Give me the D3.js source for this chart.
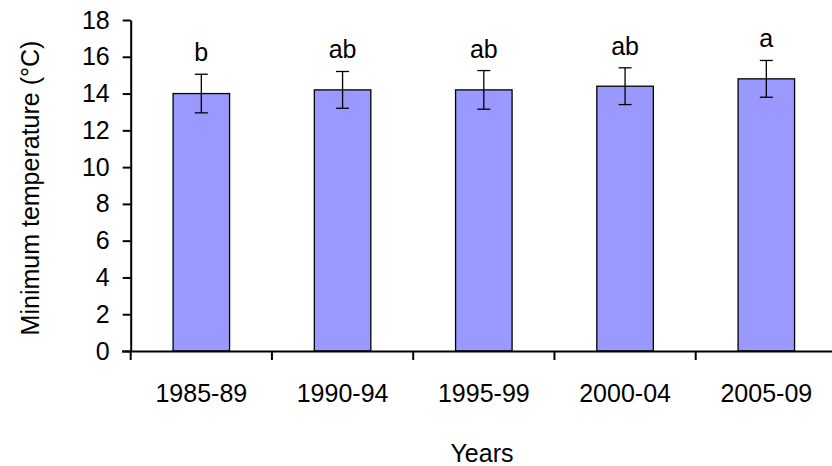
<!DOCTYPE html>
<html>
<head>
<meta charset="utf-8">
<script src="https://cdn.jsdelivr.net/npm/d3@7"></script>
<style>
  body { margin: 0; background: #fff; }
  text { font-family: Arial, "Liberation Sans", sans-serif; fill: #000; }
</style>
</head>
<body>
<script>
// data
var years = ['1985-89', '1990-94', '1995-99', '2000-04', '2005-09'];
var minTemp = [14.0, 14.2, 14.2, 14.4, 14.8];
var stdErr = [1.05, 1.0, 1.05, 1.0, 1.0];
var letters = ['b', 'ab', 'ab', 'ab', 'a'];
var yTicks = [0, 2, 4, 6, 8, 10, 12, 14, 16, 18];

var width = 832, height = 466;
var fontSize = '25px';

var svg = d3.select('body').append('svg')
  .attr('width', width)
  .attr('height', height);

var x = d3.scaleBand()
  .domain(years)
  .range([130.7, 130.7 + 5 * 141.25])
  .paddingInner(0.6)
  .paddingOuter(0.3);

var y = d3.scaleLinear()
  .domain([0, 18])
  .range([351, 20]);

// bars
svg.selectAll('rect.bar')
  .data(years)
  .enter()
  .append('rect')
  .attr('class', 'bar')
  .attr('x', function(d) { return x(d); })
  .attr('y', function(d, i) { return y(minTemp[i]); })
  .attr('width', x.bandwidth())
  .attr('height', function(d, i) { return y(0) - y(minTemp[i]); })
  .attr('fill', '#9999ff')
  .attr('stroke', '#000')
  .attr('stroke-width', 1.3);

// error bars
var err = svg.selectAll('g.err')
  .data(years)
  .enter()
  .append('g')
  .attr('class', 'err')
  .attr('stroke', '#000')
  .attr('stroke-width', 1.3);

err.append('line')
  .attr('x1', function(d) { return x(d) + x.bandwidth() / 2; })
  .attr('x2', function(d) { return x(d) + x.bandwidth() / 2; })
  .attr('y1', function(d, i) { return y(minTemp[i] + stdErr[i]); })
  .attr('y2', function(d, i) { return y(minTemp[i] - stdErr[i]); });

[1, -1].forEach(function(s) {
  err.append('line')
    .attr('x1', function(d) { return x(d) + x.bandwidth() / 2 - 6.5; })
    .attr('x2', function(d) { return x(d) + x.bandwidth() / 2 + 6.5; })
    .attr('y1', function(d, i) { return y(minTemp[i] + s * stdErr[i]); })
    .attr('y2', function(d, i) { return y(minTemp[i] + s * stdErr[i]); });
});

// significance letters
svg.selectAll('text.letter')
  .data(years)
  .enter()
  .append('text')
  .attr('class', 'letter')
  .attr('x', function(d) { return x(d) + x.bandwidth() / 2; })
  .attr('y', function(d, i) { return y(minTemp[i] + stdErr[i]) - 13; })
  .attr('text-anchor', 'middle')
  .style('font-size', fontSize)
  .text(function(d, i) { return letters[i]; });

// y axis
var yAxis = svg.append('g')
  .attr('transform', 'translate(130.7,0)')
  .call(d3.axisLeft(y).tickValues(yTicks).tickSize(8).tickPadding(13).tickSizeOuter(0));

// x axis
var xAxis = svg.append('g')
  .attr('transform', 'translate(0,351)')
  .call(d3.axisBottom(x).tickSize(0).tickPadding(33).tickSizeOuter(0));

xAxis.select('.domain').attr('d', 'M122,0.5H' + width);

// category boundary ticks
xAxis.selectAll('line.sep')
  .data(d3.range(5))
  .enter()
  .append('line')
  .attr('class', 'sep')
  .attr('x1', function(i) { return x(years[i]) - x.step() * 0.3; })
  .attr('x2', function(i) { return x(years[i]) - x.step() * 0.3; })
  .attr('y1', 0)
  .attr('y2', 9)
  .attr('stroke', '#000')
  .attr('stroke-width', 2);

[yAxis, xAxis].forEach(function(a) {
  a.selectAll('.domain').attr('stroke', '#000').attr('stroke-width', 2);
  a.selectAll('.tick line').attr('stroke', '#000').attr('stroke-width', 2);
  a.selectAll('text').style('font-size', fontSize).attr('font-family', null);
});

// axis titles
svg.append('text')
  .attr('transform', 'translate(39,188) rotate(-90)')
  .attr('text-anchor', 'middle')
  .style('font-size', fontSize)
  .text('Minimum temperature (°C)');

svg.append('text')
  .attr('x', 482)
  .attr('y', 462)
  .attr('text-anchor', 'middle')
  .style('font-size', fontSize)
  .text('Years');
</script>
</body>
</html>
